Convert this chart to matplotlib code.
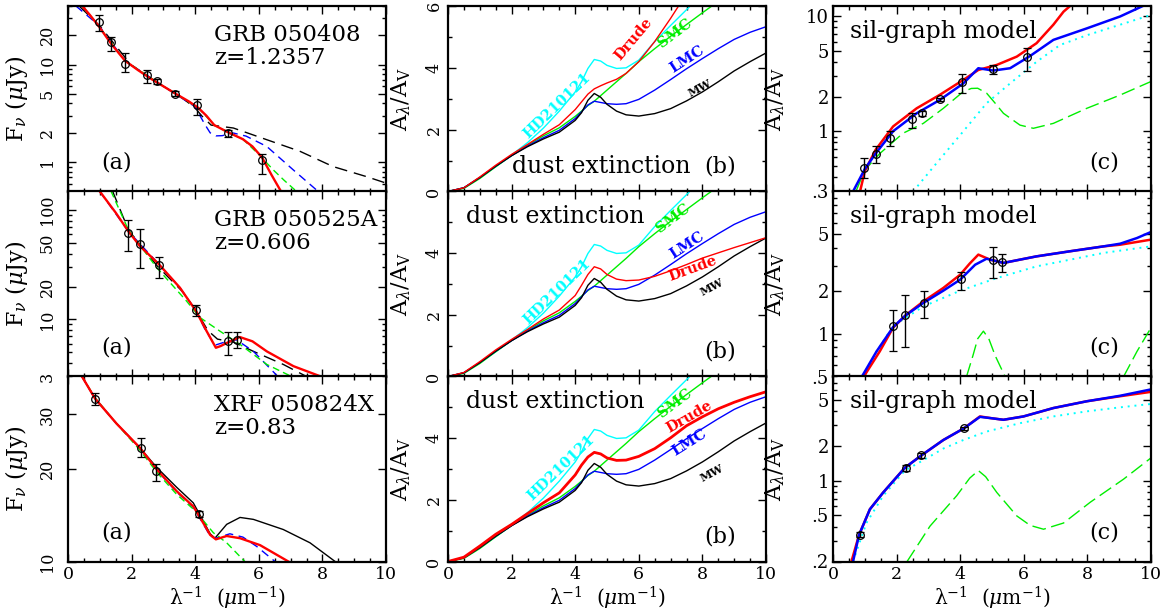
import matplotlib.pyplot as plt
from matplotlib.ticker import LogLocator, MultipleLocator, NullFormatter

plt.rcParams['font.family'] = 'DejaVu Serif'
plt.rcParams['mathtext.fontset'] = 'dejavuserif'

RED, BLUE, GREEN, CYAN = '#ff0000', '#0000ff', '#00ee00', '#00ffff'

# ---------------- (a) afterglow spectra ----------------
# GRB 050408
obs1_x = [0.96, 1.35, 1.79, 2.47, 2.79, 3.36, 4.05, 5.02, 6.11]
obs1_f = [27.5, 17.1, 10.1, 7.8, 6.8, 5.06, 3.9, 2.0, 1.06]
obs1_lo = [22, 13.8, 8.4, 6.5, 6.3, 4.75, 3.07, 1.81, 0.76]
obs1_hi = [32.6, 19.4, 13.3, 8.8, 7.2, 5.35, 4.46, 2.15, 1.22]
sed1_red_x = [0.45, 0.7, 0.96, 1.35, 1.79, 2.2, 2.6, 3.0, 3.4, 3.8, 4.1, 4.35, 4.6, 5.0, 5.5, 5.8, 6.1, 6.4, 6.7]
sed1_red_y = [40, 32, 25, 16.5, 11, 8.8, 7.2, 6.0, 5.0, 4.2, 3.6, 3.0, 2.4, 2.05, 1.72, 1.45, 1.12, 0.74, 0.5]
sed1_green_x = [0.45, 0.96, 1.79, 3.0, 4.1, 4.6, 5.0, 5.5, 6.0, 6.46, 6.8, 7.19]
sed1_green_y = [40, 25, 11, 6.0, 3.6, 2.4, 2.05, 1.72, 1.2, 0.83, 0.65, 0.5]
sed1_blue_x = [0.25, 0.96, 1.79, 3.0, 4.0, 4.15, 4.3, 4.47, 4.65, 4.85, 5.2, 5.6, 6.25, 7.09, 7.87]
sed1_blue_y = [40, 25.5, 11, 6.0, 3.7, 3.0, 2.45, 2.0, 1.86, 1.87, 1.99, 1.85, 1.45, 0.83, 0.5]
sed1_black_x = [0.35, 1.0, 2.0, 3.0, 3.5, 4.0, 4.2, 4.5, 5.2, 6.25, 7.3, 8.34, 9.39, 10.0]
sed1_black_y = [40, 25, 9.8, 6.0, 4.8, 3.6, 3.0, 2.4, 2.24, 1.70, 1.29, 0.90, 0.71, 0.61]

# GRB 050525A
obs2_x = [1.90, 2.26, 2.86, 4.03, 5.04, 5.33]
obs2_f = [62.4, 48.7, 31.3, 12.1, 6.32, 6.5]
obs2_lo = [42, 29.8, 23.8, 10.7, 4.77, 5.5]
obs2_hi = [81, 67, 37.3, 13.5, 7.7, 7.7]
sed2_red_x = [0.99, 1.5, 1.9, 2.26, 2.86, 3.52, 4.03, 4.36, 4.65, 4.8, 5.0, 5.4, 5.8, 6.25, 7.09, 7.95]
sed2_red_y = [150, 95, 64, 47, 32, 19.5, 11.9, 7.8, 5.5, 5.7, 6.1, 6.9, 6.3, 5.1, 3.73, 3.0]
sed2_blue_x = [0.99, 1.9, 2.86, 3.52, 4.03, 4.3, 4.62, 5.0, 5.3, 5.83, 6.6]
sed2_blue_y = [150, 64, 32, 19.5, 11.9, 8.2, 5.8, 6.3, 6.5, 5.1, 3.0]
sed2_green_x = [1.35, 1.9, 2.79, 3.73, 4.15, 4.78, 5.41, 6.25, 7.03]
sed2_green_y = [150, 66, 29.8, 14.7, 10.4, 7.8, 5.9, 3.87, 3.0]
sed2_black_x = [1.4, 1.9, 2.8, 3.6, 4.03, 4.4, 4.7, 5.2, 5.83, 6.77, 7.5]
sed2_black_y = [150, 66, 31, 18, 12, 7.9, 6.6, 6.2, 5.1, 3.87, 3.0]

# XRF 050824X
obs3_x = [0.84, 2.28, 2.78, 4.12]
obs3_f = [33.8, 23.4, 19.7, 14.3]
obs3_lo = [32.3, 21.8, 18.3, 13.9]
obs3_hi = [35.1, 25.1, 20.7, 14.6]
sed3_red_x = [0.43, 0.85, 1.53, 2.26, 2.79, 3.42, 3.94, 4.26, 4.47, 4.65, 4.99, 5.41, 6.04, 6.93]
sed3_red_y = [40, 33.8, 28.0, 23.4, 19.9, 16.9, 15.1, 13.3, 12.2, 11.8, 12.1, 11.9, 11.3, 10.0]
sed3_black_x = [0.43, 0.85, 1.53, 2.26, 2.79, 3.42, 3.94, 4.26, 4.47, 4.62, 4.99, 5.41, 5.83, 6.77, 7.61, 8.4]
sed3_black_y = [40, 33.8, 28.0, 23.4, 20.2, 17.4, 15.5, 13.5, 12.3, 11.9, 13.2, 13.9, 13.7, 12.7, 11.5, 10.0]
sed3_blue_x = [0.43, 0.85, 1.53, 2.26, 2.79, 3.42, 3.94, 4.26, 4.47, 4.65, 5.09, 5.5, 5.93, 6.51]
sed3_blue_y = [40, 33.8, 28.0, 23.4, 19.8, 16.8, 15.0, 13.2, 12.1, 11.9, 12.3, 12.0, 11.2, 10.0]
sed3_green_x = [0.43, 0.85, 1.53, 2.26, 2.79, 3.42, 3.94, 4.15, 4.57, 4.99, 5.56]
sed3_green_y = [40, 34, 28, 23, 19.5, 16.5, 14.8, 14.0, 12.4, 11.5, 10.0]

# ---------------- (b) template extinction curves ----------------
ext_x = [0, 0.5, 1, 1.5, 2, 2.5, 3, 3.5, 4, 4.2, 4.4, 4.6, 4.8, 5, 5.3, 5.6, 6, 6.5, 7, 7.5, 8, 8.5, 9, 9.5, 10]
ext_mw = [0, 0.12, 0.45, 0.82, 1.16, 1.45, 1.7, 1.92, 2.3, 2.55, 2.95, 3.17, 3.05, 2.82, 2.6, 2.48, 2.44, 2.52, 2.68, 2.93, 3.22, 3.55, 3.9, 4.2, 4.48]
ext_lmc = [0, 0.12, 0.45, 0.82, 1.16, 1.47, 1.74, 1.98, 2.36, 2.58, 2.8, 2.92, 2.88, 2.84, 2.82, 2.84, 2.98, 3.28, 3.62, 3.97, 4.3, 4.62, 4.92, 5.15, 5.33]
smc_x = [0, 0.5, 1, 1.5, 2, 2.5, 3, 3.5, 4, 4.2, 4.4, 4.6, 4.8, 5, 5.3, 5.6, 6, 6.5, 7, 7.5, 8, 8.5]
ext_smc = [0, 0.1, 0.42, 0.8, 1.16, 1.5, 1.8, 2.06, 2.43, 2.6, 2.78, 2.92, 3.1, 3.28, 3.55, 3.82, 4.2, 4.62, 5.02, 5.4, 5.78, 6.15]
hd_x = [0, 0.5, 1, 1.5, 2, 2.5, 3, 3.5, 4, 4.2, 4.4, 4.6, 4.8, 5, 5.3, 5.6, 6, 6.5, 7, 7.5, 8]
ext_hd = [0, 0.12, 0.45, 0.8, 1.18, 1.58, 2.05, 2.6, 3.22, 3.55, 3.98, 4.27, 4.22, 4.08, 3.98, 4.0, 4.25, 4.85, 5.37, 5.88, 6.4]
drude1_x = [0, 0.5, 1, 1.5, 2, 2.5, 3, 3.5, 4, 4.2, 4.4, 4.6, 4.8, 5, 5.3, 5.6, 6, 6.5, 7, 7.5]
drude1_y = [0, 0.12, 0.47, 0.85, 1.2, 1.52, 1.85, 2.16, 2.65, 2.9, 3.15, 3.32, 3.42, 3.51, 3.63, 3.82, 4.2, 4.85, 5.6, 6.4]
drude2_y = [0, 0.13, 0.48, 0.86, 1.2, 1.52, 1.86, 2.15, 2.62, 2.95, 3.3, 3.55, 3.48, 3.3, 3.15, 3.1, 3.12, 3.24, 3.42, 3.62, 3.83, 4.0, 4.17, 4.33, 4.49]
drude3_y = [0, 0.14, 0.5, 0.88, 1.2, 1.55, 1.9, 2.22, 2.8, 3.12, 3.38, 3.53, 3.48, 3.35, 3.27, 3.28, 3.4, 3.65, 4.0, 4.39, 4.68, 4.94, 5.15, 5.33, 5.49]

# ---------------- (c) derived extinction, sil-graph fits ----------------
ext1_obs = [0.48, 0.64, 0.87, 1.27, 1.43, 1.89, 2.68, 3.47, 4.38]
ext1_lo = [0.39, 0.53, 0.74, 1.06, 1.36, 1.82, 2.16, 3.14, 3.36]
ext1_hi = [0.58, 0.75, 1.0, 1.45, 1.5, 1.96, 3.14, 3.76, 5.24]
sg1_red_x = [0.85, 1.0, 1.34, 1.89, 2.63, 3.36, 4.1, 4.57, 5.15, 5.78, 6.4, 6.93, 7.25, 7.5]
sg1_red_y = [0.3, 0.45, 0.69, 1.10, 1.58, 2.07, 2.79, 3.4, 3.76, 4.44, 5.8, 8.4, 10.9, 12.5]
sg1_blue_x = [0.63, 1.0, 1.34, 1.89, 2.63, 3.36, 4.1, 4.57, 5.04, 5.57, 6.2, 6.93, 7.98, 9.03, 9.77]
sg1_blue_y = [0.3, 0.47, 0.64, 1.0, 1.43, 1.87, 2.6, 3.52, 3.36, 3.52, 4.5, 6.2, 7.8, 9.9, 12.3]
sg1_cyan_x = [2.52, 3.26, 4.1, 4.83, 5.57, 6.4, 7.14, 7.98, 9.03, 10.0]
sg1_cyan_y = [0.3, 0.53, 1.0, 1.75, 2.6, 4.0, 5.6, 6.8, 8.4, 10.2]
sg1_green_x = [0.72, 1.0, 1.47, 2.2, 2.84, 3.47, 4.1, 4.35, 4.55, 4.83, 5.1, 5.36, 5.88, 6.3, 6.93, 7.98, 9.03, 10]
sg1_green_y = [0.3, 0.46, 0.64, 0.96, 1.17, 1.58, 2.21, 2.35, 2.36, 2.14, 1.75, 1.43, 1.13, 1.06, 1.17, 1.58, 2.06, 2.7]

ext2_obs = [1.13, 1.34, 1.64, 2.42, 3.28, 3.18]
ext2_lo = [0.76, 0.81, 1.29, 2.03, 2.45, 2.7]
ext2_hi = [1.47, 1.85, 2.0, 2.7, 4.05, 3.64]
sg2_red_x = [0.97, 1.47, 1.89, 2.31, 2.84, 3.47, 4.0, 4.3, 4.57, 4.94, 5.36, 6.4, 7.46, 8.51, 9.03, 10]
sg2_red_y = [0.5, 0.75, 1.10, 1.36, 1.68, 2.09, 2.59, 3.1, 3.58, 3.3, 3.13, 3.48, 3.78, 4.09, 4.2, 4.56]
sg2_blue_x = [0.91, 1.37, 1.89, 2.28, 2.84, 3.47, 4.0, 4.47, 4.83, 5.36, 6.4, 7.46, 8.51, 9.03, 9.56, 10]
sg2_blue_y = [0.5, 0.75, 1.11, 1.34, 1.64, 2.0, 2.39, 3.04, 3.35, 3.13, 3.48, 3.78, 4.09, 4.27, 4.68, 5.16]
sg2_cyan_x = [0.93, 1.37, 1.89, 2.84, 4.0, 5.15, 6.4, 7.46, 8.51, 10]
sg2_cyan_y = [0.5, 0.75, 1.13, 1.55, 2.0, 2.45, 2.96, 3.3, 3.68, 4.09]
sg2_green_x = [4.2, 4.4, 4.55, 4.73, 4.9, 5.1, 5.41]
sg2_green_y = [0.5, 0.7, 0.92, 1.04, 0.92, 0.7, 0.5]
sg2_green2_x = [9.14, 9.56, 10]
sg2_green2_y = [0.5, 0.75, 1.1]

ext3_obs = [0.342, 1.29, 1.65, 2.83]
ext3_lo = [0.325, 1.22, 1.57, 2.74]
ext3_hi = [0.36, 1.36, 1.73, 2.92]
sg3_red_x = [0.58, 0.82, 1.16, 1.58, 2.26, 2.78, 3.47, 4.12, 4.62, 5.0, 5.36, 5.99, 6.93, 7.98, 9.03, 10]
sg3_red_y = [0.2, 0.34, 0.565, 0.79, 1.29, 1.65, 2.24, 2.83, 3.58, 3.45, 3.35, 3.58, 4.23, 4.84, 5.35, 5.84]
sg3_blue_x = [0.63, 0.82, 1.16, 1.58, 2.26, 2.78, 3.47, 4.12, 4.62, 5.0, 5.36, 5.99, 6.93, 7.98, 9.03, 10]
sg3_blue_y = [0.2, 0.34, 0.565, 0.79, 1.29, 1.65, 2.24, 2.83, 3.55, 3.45, 3.35, 3.58, 4.23, 4.84, 5.4, 6.13]
sg3_cyan_x = [0.63, 1.05, 1.58, 2.26, 2.84, 3.47, 4.1, 4.83, 5.88, 6.93, 7.98, 9.03, 10]
sg3_cyan_y = [0.2, 0.43, 0.74, 1.22, 1.5, 1.89, 2.24, 2.65, 3.13, 3.58, 3.96, 4.29, 4.59]
sg3_green_x = [2.33, 3.05, 3.89, 4.3, 4.57, 4.8, 5.15, 5.78, 6.2, 6.62, 7.25, 8.09, 9.14, 10]
sg3_green_y = [0.2, 0.404, 0.74, 1.05, 1.22, 1.08, 0.79, 0.495, 0.41, 0.38, 0.43, 0.65, 1.03, 1.57]

# ---------------- layout ----------------
W, H = 1166, 612
col_left = [68, 448, 833]
row_top = [6, 191, 376]
AW, AH = 318, 185.5

fig = plt.figure(figsize=(W / 100, H / 100), dpi=100)


def panel(col, row):
    ax = fig.add_axes([col_left[col] / W, 1 - (row_top[row] + AH) / H, AW / W, AH / H])
    for s in ax.spines.values():
        s.set_linewidth(1.6)
    ax.set_xlim(0, 10)
    ax.xaxis.set_major_locator(MultipleLocator(2))
    ax.xaxis.set_minor_locator(MultipleLocator(0.5))
    ax.tick_params(which='both', direction='in', top=True, right=True, width=1.0)
    ax.tick_params(which='major', length=6)
    ax.tick_params(which='minor', length=3)
    ax.tick_params(axis='x', pad=3.5, labelsize=12.5)
    ax.tick_params(axis='y', labelsize=11.5)
    if row < 2:
        ax.tick_params(labelbottom=False)
    else:
        ax.set_xlabel('λ$^{-1}$  ($\\mu$m$^{-1}$)', fontsize=14.5, va='center')
        ax.xaxis.set_label_coords(0.5, -0.2)
    return ax


def set_y(ax, ticks, labels, rotated):
    kw = dict(rotation=90, va='center') if rotated else {}
    ax.set_yticks(ticks, labels, **kw)


def log_minor(ax):
    ax.yaxis.set_minor_locator(LogLocator(base=10, subs=range(2, 10)))
    ax.yaxis.set_minor_formatter(NullFormatter())


def obs(ax, x, y, lo, hi):
    err = [[v - l for v, l in zip(y, lo)], [h - v for v, h in zip(y, hi)]]
    ax.errorbar(x, y, yerr=err, fmt='o', mfc='none', mec='k', ecolor='k', ms=5.5,
                mew=0.9, capsize=3, elinewidth=1, capthick=1, zorder=6)


# column (a)
sed_panels = [
    (0.5, 40, [1, 2, 5, 10, 20], ['1', '2', '5', '10', '20'], 'GRB 050408', 'z=1.2357'),
    (3, 150, [3, 10, 20, 50, 100], ['3', '10', '20', '50', '100'], 'GRB 050525A', 'z=0.606'),
    (10, 40, [10, 20, 30], ['10', '20', '30'], 'XRF 050824X', 'z=0.83'),
]
sed_curves = [
    (sed1_black_x, sed1_black_y, sed1_blue_x, sed1_blue_y, sed1_green_x, sed1_green_y, sed1_red_x, sed1_red_y),
    (sed2_black_x, sed2_black_y, sed2_blue_x, sed2_blue_y, sed2_green_x, sed2_green_y, sed2_red_x, sed2_red_y),
    (sed3_black_x, sed3_black_y, sed3_blue_x, sed3_blue_y, sed3_green_x, sed3_green_y, sed3_red_x, sed3_red_y),
]
sed_obs = [(obs1_x, obs1_f, obs1_lo, obs1_hi), (obs2_x, obs2_f, obs2_lo, obs2_hi),
           (obs3_x, obs3_f, obs3_lo, obs3_hi)]

for r in range(3):
    ax = panel(0, r)
    lo, hi, ticks, labels, name, z = sed_panels[r]
    ax.set_yscale('log')
    set_y(ax, ticks, labels, True)
    log_minor(ax)
    ax.set_ylim(lo, hi)
    ax.tick_params(axis='y', pad=9)
    bx, by, ux, uy, gx, gy, rx, ry = sed_curves[r]
    if r < 2:
        ax.plot(bx, by, color='k', lw=1.0, dashes=(9, 5))
    else:
        ax.plot(bx, by, color='k', lw=1.0)
    ax.plot(ux, uy, color=BLUE, lw=1.0, dashes=(6, 4))
    ax.plot(gx, gy, color=GREEN, lw=1.0, dashes=(5, 3))
    ax.plot(rx, ry, color=RED, lw=1.7)
    obs(ax, *sed_obs[r])
    ax.text(0.46, 0.845, name, transform=ax.transAxes, fontsize=16.5, va='center')
    ax.text(0.46, 0.72, z, transform=ax.transAxes, fontsize=16.5, va='center')
    ax.text(0.105, 0.155, '(a)', transform=ax.transAxes, fontsize=16, va='center')
    ax.set_ylabel(r'F$_\nu$ ($\mu$Jy)', fontsize=16)
    ax.yaxis.set_label_coords(-0.12, 0.5)

# column (b)
drude = [(drude1_x, drude1_y), (ext_x, drude2_y), (ext_x, drude3_y)]
tags = [
    {'HD210121': (3.42, 2.79, 44), 'Drude': (5.82, 4.93, 50), 'SMC': (7.14, 5.12, 37),
     'LMC': (7.52, 4.28, 33), 'MW': (7.92, 3.34, 28)},
    {'HD210121': (3.42, 2.73, 44), 'SMC': (7.08, 5.12, 37), 'LMC': (7.52, 4.25, 33),
     'Drude': (7.7, 3.5, 20), 'MW': (8.3, 2.89, 28)},
    {'HD210121': (3.57, 3.03, 44), 'SMC': (7.14, 5.13, 37), 'Drude': (7.6, 4.68, 30),
     'LMC': (7.6, 3.84, 32), 'MW': (8.3, 2.87, 28)},
]
tag_color = {'HD210121': CYAN, 'Drude': RED, 'SMC': GREEN, 'LMC': BLUE, 'MW': 'k'}

for r in range(3):
    ax = panel(1, r)
    set_y(ax, [0, 2, 4, 6], ['0', '2', '4', '6' if r == 0 else ''], True)
    ax.set_ylim(0, 6)
    ax.yaxis.set_minor_locator(MultipleLocator(1))
    ax.tick_params(axis='y', pad=4)
    ax.plot(hd_x, ext_hd, color=CYAN, lw=1.0)
    ax.plot(smc_x, ext_smc, color=GREEN, lw=1.0)
    ax.plot(ext_x, ext_lmc, color=BLUE, lw=1.0)
    ax.plot(ext_x, ext_mw, color='k', lw=1.0)
    dx, dy = drude[r]
    ax.plot(dx, dy, color=RED, lw=2.0 if r == 2 else 1.0)
    for name, (tx, ty, rot) in tags[r].items():
        ax.text(tx, ty, name, color=tag_color[name], fontsize=8 if name == 'MW' else 10.5,
                fontweight='bold', rotation=rot, ha='center', va='center')
    if r == 0:
        ax.text(0.2, 0.135, 'dust extinction', transform=ax.transAxes, fontsize=17, va='center')
    else:
        ax.text(0.057, 0.865, 'dust extinction', transform=ax.transAxes, fontsize=17, va='center')
    ax.text(0.805, 0.135, '(b)', transform=ax.transAxes, fontsize=16, va='center')
    ax.set_ylabel(r'A$_\lambda$/A$_{\rm V}$', fontsize=16)
    ax.yaxis.set_label_coords(-0.11, 0.5)

# column (c)
sg_axes = [
    (0.3, 12.2, [0.3, 1, 2, 5, 10], ['.3', '1', '2', '5', '10']),
    (0.5, 10, [0.5, 1, 2, 5], ['.5', '1', '2', '5']),
    (0.2, 8, [0.2, 0.5, 1, 2, 5], ['.2', '.5', '1', '2', '5']),
]
sg_green = [[(sg1_green_x, sg1_green_y)],
            [(sg2_green_x, sg2_green_y), (sg2_green2_x, sg2_green2_y)],
            [(sg3_green_x, sg3_green_y)]]
sg_lines = [
    (sg1_cyan_x, sg1_cyan_y, sg1_red_x, sg1_red_y, sg1_blue_x, sg1_blue_y),
    (sg2_cyan_x, sg2_cyan_y, sg2_red_x, sg2_red_y, sg2_blue_x, sg2_blue_y),
    (sg3_cyan_x, sg3_cyan_y, sg3_red_x, sg3_red_y, sg3_blue_x, sg3_blue_y),
]
sg_obs = [(obs1_x, ext1_obs, ext1_lo, ext1_hi), (obs2_x, ext2_obs, ext2_lo, ext2_hi),
          (obs3_x, ext3_obs, ext3_lo, ext3_hi)]

for r in range(3):
    ax = panel(2, r)
    lo, hi, ticks, labels = sg_axes[r]
    ax.set_yscale('log')
    set_y(ax, ticks, labels, False)
    log_minor(ax)
    ax.set_ylim(lo, hi)
    ax.tick_params(axis='y', pad=3, labelsize=13)
    for gx, gy in sg_green[r]:
        ax.plot(gx, gy, color=GREEN, lw=1.0, dashes=(10, 4))
    cx, cy, rx, ry, bx, by = sg_lines[r]
    ax.plot(cx, cy, color=CYAN, lw=1.4, dashes=(1, 2.5))
    ax.plot(rx, ry, color=RED, lw=1.8)
    ax.plot(bx, by, color=BLUE, lw=1.8)
    obs(ax, *sg_obs[r])
    ax.text(0.055, 0.86, 'sil-graph model', transform=ax.transAxes, fontsize=17, va='center')
    ax.text(0.805, 0.155, '(c)', transform=ax.transAxes, fontsize=16, va='center')
    ax.set_ylabel(r'A$_\lambda$/A$_{\rm V}$', fontsize=16)
    ax.yaxis.set_label_coords(-0.145, 0.5)

fig.savefig('out.png', dpi=100)
